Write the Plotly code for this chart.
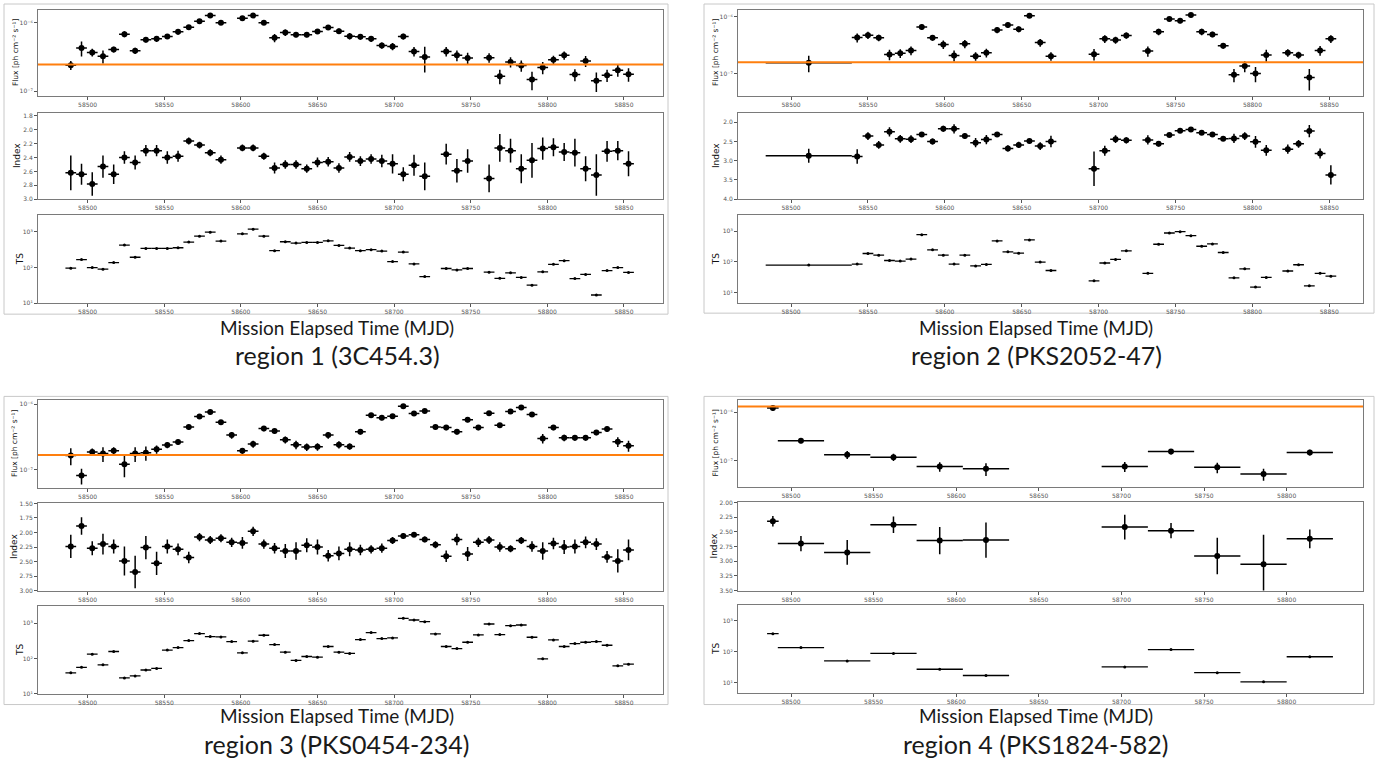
import plotly.graph_objects as go

W, H = 1377, 767

# ---------------- Region 1 (3C454.3) ----------------
r1_mjd = [58489, 58496, 58503, 58510, 58517, 58524, 58531, 58538, 58545, 58552, 58559, 58566, 58573, 58580, 58587,
          58601, 58608, 58615, 58622, 58629, 58636, 58643, 58650, 58657, 58664, 58671, 58678, 58685, 58692, 58699,
          58706, 58713, 58720, 58734, 58741, 58748, 58762, 58769, 58776, 58783, 58790, 58797, 58804, 58811, 58818,
          58825, 58832, 58839, 58846, 58853]
r1_halfwidth = [3.5] * len(r1_mjd)
r1_flux = [2.41, 4.3, 3.7, 3.25, 4.1, 6.86, 3.93, 5.67, 5.86, 6.34, 7.41, 8.65, 10.57, 12.9, 10.1,
           11.7, 12.8, 10.1, 6.07, 7.24, 6.7, 6.7, 7.48, 8.56, 7.57, 6.41, 6.27, 5.86, 4.69, 4.54,
           6.34, 3.84, 3.18, 3.84, 3.36, 3.08, 3.11, 1.67, 2.69, 2.38, 1.49, 2.23, 2.91, 3.36, 1.76,
           2.78, 1.43, 1.72, 2.04, 1.78]
r1_flux_err = [0.36, 1.07, 0.48, 0.7, 0.4, 0.7, 0.4, 0.5, 0.6, 0.5, 0.7, 0.7, 0.65, 0.8, 0.6,
               0.7, 0.8, 0.6, 0.85, 0.8, 0.5, 0.5, 0.55, 0.6, 0.7, 0.7, 0.6, 0.6, 0.5, 0.55,
               0.6, 0.6, 1.3, 0.6, 0.6, 0.6, 0.5, 0.4, 0.45, 0.45, 0.45, 0.45, 0.4, 0.45, 0.35,
               0.5, 0.45, 0.35, 0.4, 0.4]
r1_index = [2.62, 2.64, 2.78, 2.53, 2.64, 2.40, 2.47, 2.30, 2.30, 2.40, 2.38, 2.16, 2.22, 2.33, 2.43,
            2.26, 2.26, 2.38, 2.55, 2.50, 2.50, 2.56, 2.47, 2.46, 2.55, 2.39, 2.45, 2.42, 2.45, 2.49,
            2.64, 2.51, 2.67, 2.35, 2.59, 2.45, 2.70, 2.26, 2.30, 2.56, 2.44, 2.27, 2.25, 2.32, 2.33,
            2.56, 2.65, 2.31, 2.30, 2.49]
r1_index_err = [0.25, 0.15, 0.17, 0.16, 0.14, 0.09, 0.10, 0.08, 0.08, 0.09, 0.08, 0.05, 0.05, 0.05, 0.06,
                0.05, 0.05, 0.05, 0.08, 0.06, 0.06, 0.06, 0.07, 0.07, 0.07, 0.07, 0.07, 0.07, 0.09, 0.14,
                0.10, 0.15, 0.20, 0.15, 0.17, 0.17, 0.20, 0.20, 0.17, 0.21, 0.25, 0.16, 0.13, 0.13, 0.20,
                0.18, 0.30, 0.15, 0.14, 0.18]
r1_ts = [96, 167, 100, 90, 138, 426, 194, 344, 344, 344, 359, 516, 758, 980, 550,
         880, 1186, 758, 296, 527, 484, 505, 505, 562, 417, 352, 296, 316, 290, 147,
         272, 126, 56, 94, 86, 94, 74, 50, 71, 53, 32, 76, 123, 156, 49,
         64, 17, 82, 100, 73]
r1_ref_flux = 2.46

# ---------------- Region 2 (PKS2052-47) ----------------
r2_mjd = [58511.5, 58543, 58550, 58557, 58564, 58571, 58578, 58585, 58592, 58599, 58606, 58613, 58620, 58627,
          58634, 58641, 58648, 58655, 58662, 58669, 58697, 58704, 58711, 58718, 58732, 58739, 58746, 58753,
          58760, 58767, 58774, 58781, 58788, 58795, 58802, 58809, 58823, 58830, 58837, 58844, 58851]
r2_halfwidth = [28] + [3.5] * 40
r2_flux = [1.55, 4.31, 4.74, 4.26, 2.16, 2.28, 2.55, 6.57, 4.26, 3.25, 2.08, 3.34, 2.02, 2.32,
           5.82, 7.13, 6.05, 10.4, 3.52, 2.02, 2.19, 4.09, 3.88, 4.69, 2.48, 5.43, 9.1, 8.5,
           10.7, 5.43, 4.88, 3.08, 0.947, 1.35, 1.0, 2.11, 2.32, 2.11, 0.85, 2.55, 4.09]
r2_flux_err = [0.5, 0.78, 0.7, 0.55, 0.45, 0.4, 0.45, 0.7, 0.5, 0.55, 0.45, 0.55, 0.35, 0.4,
               0.7, 0.8, 0.7, 0.9, 0.55, 0.35, 0.5, 0.65, 0.55, 0.6, 0.5, 0.7, 0.8, 0.8,
               1.0, 0.7, 0.55, 0.35, 0.25, 0.3, 0.3, 0.5, 0.35, 0.3, 0.35, 0.5, 0.65]
r2_index = [2.87, 2.89, 2.36, 2.59, 2.25, 2.43, 2.44, 2.32, 2.50, 2.17, 2.17, 2.36, 2.53, 2.45,
            2.32, 2.68, 2.59, 2.49, 2.62, 2.50, 3.21, 2.74, 2.44, 2.47, 2.46, 2.56, 2.33, 2.22,
            2.19, 2.27, 2.32, 2.43, 2.42, 2.36, 2.51, 2.73, 2.70, 2.56, 2.23, 2.81, 3.37]
r2_index_err = [0.18, 0.19, 0.10, 0.10, 0.12, 0.10, 0.10, 0.05, 0.08, 0.08, 0.12, 0.07, 0.12, 0.12,
                0.05, 0.08, 0.08, 0.06, 0.10, 0.15, 0.45, 0.13, 0.10, 0.08, 0.12, 0.07, 0.05, 0.04,
                0.04, 0.06, 0.06, 0.06, 0.12, 0.10, 0.15, 0.14, 0.12, 0.10, 0.16, 0.13, 0.25]
r2_ts = [78, 84, 186, 164, 110, 105, 122, 762, 244, 164, 84, 164, 73, 82,
         476, 210, 190, 512, 98, 52, 24, 91, 119, 227, 42, 372, 862, 952,
         707, 320, 380, 200, 30, 59, 15, 31, 50, 80, 16.5, 42, 34]
r2_ref_flux = 1.58

# ---------------- Region 3 (PKS0454-234) ----------------
r3_mjd = [58489, 58496, 58503, 58510, 58517, 58524, 58531, 58538, 58545, 58552, 58559, 58566, 58573, 58580,
          58587, 58594, 58601, 58608, 58615, 58622, 58629, 58636, 58643, 58650, 58657, 58664, 58671, 58678,
          58685, 58692, 58699, 58706, 58713, 58720, 58727, 58734, 58741, 58748, 58755, 58762, 58769, 58776,
          58783, 58790, 58797, 58804, 58811, 58818, 58825, 58832, 58839, 58846, 58853]
r3_halfwidth = [3.5] * len(r3_mjd)
r3_flux = [1.65, 0.82, 1.87, 1.77, 1.96, 1.22, 1.77, 1.83, 2.06, 2.39, 2.66, 4.49, 6.5, 7.65,
           5.33, 3.39, 1.96, 2.48, 4.28, 3.9, 2.88, 2.42, 2.23, 2.25, 3.39, 2.42, 2.28, 3.81,
           6.81, 6.21, 6.58, 9.33, 7.22, 7.92, 4.49, 4.42, 3.81, 5.79, 4.42, 7.31, 4.8, 7.74,
           8.9, 6.97, 3.02, 4.42, 3.09, 3.09, 3.09, 3.72, 4.18, 2.69, 2.34]
r3_flux_err = [0.48, 0.22, 0.25, 0.45, 0.25, 0.45, 0.45, 0.45, 0.3, 0.25, 0.25, 0.4, 0.5, 0.6,
               0.4, 0.4, 0.2, 0.3, 0.4, 0.35, 0.35, 0.35, 0.3, 0.3, 0.4, 0.3, 0.25, 0.35,
               0.4, 0.5, 0.5, 0.6, 0.5, 0.5, 0.35, 0.4, 0.35, 0.45, 0.4, 0.45, 0.4, 0.5,
               0.55, 0.5, 0.5, 0.4, 0.35, 0.3, 0.3, 0.35, 0.4, 0.45, 0.45]
r3_index = [2.24, 1.89, 2.27, 2.20, 2.24, 2.49, 2.68, 2.26, 2.53, 2.24, 2.29, 2.43, 2.08, 2.13,
            2.10, 2.17, 2.18, 1.98, 2.20, 2.27, 2.32, 2.32, 2.22, 2.25, 2.40, 2.36, 2.29, 2.30,
            2.29, 2.27, 2.14, 2.06, 2.04, 2.12, 2.21, 2.41, 2.12, 2.37, 2.17, 2.13, 2.25, 2.28,
            2.14, 2.24, 2.32, 2.19, 2.25, 2.24, 2.17, 2.20, 2.42, 2.49, 2.30]
r3_index_err = [0.20, 0.15, 0.12, 0.18, 0.12, 0.25, 0.28, 0.20, 0.20, 0.12, 0.10, 0.10, 0.07, 0.07,
                0.07, 0.08, 0.10, 0.08, 0.08, 0.09, 0.12, 0.15, 0.12, 0.13, 0.10, 0.12, 0.12, 0.09,
                0.07, 0.08, 0.06, 0.05, 0.04, 0.05, 0.06, 0.10, 0.10, 0.12, 0.08, 0.07, 0.08, 0.06,
                0.06, 0.09, 0.15, 0.10, 0.12, 0.12, 0.10, 0.10, 0.10, 0.20, 0.18]
r3_ts = [39, 56, 133, 66, 158, 28, 32, 47, 52, 173, 205, 323, 510, 420,
         410, 303, 145, 310, 458, 249, 151, 88, 114, 109, 219, 151, 139, 345,
         545, 368, 384, 1385, 1242, 1115, 500, 219, 192, 290, 468, 957, 478, 859,
         897, 402, 98, 338, 219, 266, 290, 303, 238, 62, 69]
r3_ref_flux = 1.69

# ---------------- Region 4 (PKS1824-582) ----------------
r4_mjd = [58489, 58506, 58534, 58562, 58590, 58618, 58702, 58730, 58758, 58786, 58814]
r4_halfwidth = [3.5, 14, 14, 14, 14, 14, 14, 14, 14, 14, 14]
r4_flux = [12.2, 2.58, 1.34, 1.19, 0.767, 0.689, 0.767, 1.55, 0.733, 0.537, 1.48]
r4_flux_err = [1.4, 0.28, 0.25, 0.2, 0.17, 0.2, 0.18, 0.2, 0.18, 0.15, 0.2]
r4_index = [2.32, 2.70, 2.85, 2.38, 2.65, 2.64, 2.42, 2.48, 2.91, 3.05, 2.62]
r4_index_err = [0.09, 0.13, 0.21, 0.14, 0.23, 0.30, 0.21, 0.13, 0.31, 0.50, 0.16]
r4_ts = [375, 134, 50, 87, 27, 17, 32, 116, 21, 10.7, 68]
r4_ref_flux = 13.2

FLUX_UNIT = 1e-7
FLUX_TICKS = [1e-7, 1e-6]
FLUX_TICKTEXT = ["10⁻⁷", "10⁻⁶"]
TS_TICKS = [10, 100, 1000]
TS_TICKTEXT = ["10¹", "10²", "10³"]

panels = [
    dict(mjd=r1_mjd, hw=r1_halfwidth, flux=r1_flux, ferr=r1_flux_err, idx=r1_index, ierr=r1_index_err,
         ts=r1_ts, ref=r1_ref_flux, xdom=(38, 663), rows=[(6, 93), (110, 197), (213, 302)],
         xr=[58467.6, 58875.5], fr=[-7.07, -5.81], ir=[3.0, 1.757], tr=[1.0, 3.47],
         iticks=[1.8, 2.0, 2.2, 2.4, 2.6, 2.8, 3.0], ifmt=".1f", xticks=list(range(58500, 58851, 50)),
         frame=(4, 0, 668, 313), cap_x=337, cap_y=(326, 354), label="region 1 (3C454.3)", titlex=(15, 17, 20)),
    dict(mjd=r2_mjd, hw=r2_halfwidth, flux=r2_flux, ferr=r2_flux_err, idx=r2_index, ierr=r2_index_err,
         ts=r2_ts, ref=r2_ref_flux, xdom=(738, 1363), rows=[(6, 93), (110, 197), (213, 302)],
         xr=[58465.5, 58871.9], fr=[-7.40, -5.88], ir=[4.0, 1.76], tr=[0.65, 3.52],
         iticks=[2.0, 2.5, 3.0, 3.5, 4.0], ifmt=".1f", xticks=list(range(58500, 58851, 50)),
         frame=(704, 0, 1374, 312), cap_x=1036, cap_y=(326, 354), label="region 2 (PKS2052-47)", titlex=(715, 716, 716)),
    dict(mjd=r3_mjd, hw=r3_halfwidth, flux=r3_flux, ferr=r3_flux_err, idx=r3_index, ierr=r3_index_err,
         ts=r3_ts, ref=r3_ref_flux, xdom=(38, 663), rows=[(400, 488), (504, 592), (608, 696)],
         xr=[58467.6, 58875.5], fr=[-7.27, -5.94], ir=[3.0, 1.5], tr=[1.0, 3.48],
         iticks=[1.5, 1.75, 2.0, 2.25, 2.5, 2.75, 3.0], ifmt=".2f", xticks=list(range(58500, 58851, 50)),
         frame=(4, 396, 668, 707), cap_x=337, cap_y=(718, 747), label="region 3 (PKS0454-234)", titlex=(15, 14, 20)),
    dict(mjd=r4_mjd, hw=r4_halfwidth, flux=r4_flux, ferr=r4_flux_err, idx=r4_index, ierr=r4_index_err,
         ts=r4_ts, ref=r4_ref_flux, xdom=(738, 1363), rows=[(400, 487), (503, 592), (607, 695)],
         xr=[58467.9, 58846.2], fr=[-7.53, -5.755], ir=[3.5, 2.0], tr=[0.68, 3.48],
         iticks=[2.0, 2.25, 2.5, 2.75, 3.0, 3.25, 3.5], ifmt=".2f", xticks=list(range(58500, 58801, 50)),
         frame=(704, 396, 1374, 707), cap_x=1036, cap_y=(718, 747), label="region 4 (PKS1824-582)", titlex=(715, 714, 716)),
]


def fx(px):
    return px / W


def fy(py):
    return 1 - py / H


TICKFONT = dict(family="DejaVu Sans", size=6, color="#555555")
AXLINE = "#7a7a7a"

fig = go.Figure()
layout = dict(width=W, height=H, margin=dict(l=0, r=0, t=0, b=0), autosize=False,
              paper_bgcolor="white", plot_bgcolor="white", showlegend=False)
shapes = []
annotations = []

for p, P in enumerate(panels):
    x0, y0, x1, y1 = P["frame"]
    shapes.append(dict(type="rect", xref="paper", yref="paper", x0=fx(x0), x1=fx(x1), y0=fy(y1), y1=fy(y0),
                       line=dict(color="#c8c8c8", width=1), fillcolor="rgba(0,0,0,0)", layer="below"))
    for r in range(3):
        k = p * 3 + r + 1
        xs = "" if k == 1 else str(k)
        ytop, ybot = P["rows"][r]
        xa = dict(domain=[fx(P["xdom"][0]), fx(P["xdom"][1])], anchor="y" + xs, range=P["xr"],
                  tickvals=P["xticks"], ticktext=[str(v) for v in P["xticks"]], tickfont=TICKFONT,
                  ticks="outside", ticklen=3, tickcolor="#555555", showline=True, mirror=True,
                  linecolor=AXLINE, linewidth=1, showgrid=False, zeroline=False)
        ya = dict(domain=[fy(ybot), fy(ytop)], anchor="x" + xs, tickfont=TICKFONT,
                  ticks="outside", ticklen=3, tickcolor="#555555", showline=True, mirror=True,
                  linecolor=AXLINE, linewidth=1, showgrid=False, zeroline=False)
        err_x = dict(type="data", array=P["hw"], color="black", thickness=1.5, width=0)
        if r == 0:
            ya.update(type="log", range=P["fr"], tickvals=FLUX_TICKS, ticktext=FLUX_TICKTEXT)
            yv = [v * FLUX_UNIT for v in P["flux"]]
            ev = [v * FLUX_UNIT for v in P["ferr"]]
            fig.add_trace(go.Scatter(x=P["mjd"], y=yv, mode="markers",
                                     marker=dict(color="black", size=6),
                                     error_x=err_x,
                                     error_y=dict(type="data", array=ev, color="black", thickness=1.5, width=0),
                                     xaxis="x" + xs, yaxis="y" + xs, hoverinfo="skip"))
            ref = P["ref"] * FLUX_UNIT
            fig.add_trace(go.Scatter(x=P["xr"], y=[ref, ref], mode="lines",
                                     line=dict(color="#ff7f0e", width=2),
                                     xaxis="x" + xs, yaxis="y" + xs, hoverinfo="skip"))
            title, tsize = "Flux [ph cm⁻² s⁻¹]", 7.5
        elif r == 1:
            ya.update(range=P["ir"], tickvals=P["iticks"], tickformat=P["ifmt"])
            fig.add_trace(go.Scatter(x=P["mjd"], y=P["idx"], mode="markers",
                                     marker=dict(color="black", size=6),
                                     error_x=err_x,
                                     error_y=dict(type="data", array=P["ierr"], color="black", thickness=1.5, width=0),
                                     xaxis="x" + xs, yaxis="y" + xs, hoverinfo="skip"))
            title, tsize = "Index", 9
        else:
            ya.update(type="log", range=P["tr"], tickvals=TS_TICKS, ticktext=TS_TICKTEXT)
            fig.add_trace(go.Scatter(x=P["mjd"], y=P["ts"], mode="markers",
                                     marker=dict(color="black", size=3),
                                     error_x=dict(type="data", array=P["hw"], color="black", thickness=1.3, width=0),
                                     xaxis="x" + xs, yaxis="y" + xs, hoverinfo="skip"))
            title, tsize = "TS", 9
        layout["xaxis" + xs] = xa
        layout["yaxis" + xs] = ya
        annotations.append(dict(text=title, xref="paper", yref="paper", x=fx(P["titlex"][r]),
                                y=fy((ytop + ybot) / 2), textangle=-90, showarrow=False,
                                xanchor="center", yanchor="middle",
                                font=dict(family="DejaVu Sans", size=tsize, color="#111111")))
    annotations.append(dict(text="Mission Elapsed Time (MJD)", xref="paper", yref="paper",
                            x=fx(P["cap_x"]), y=fy(P["cap_y"][0]), showarrow=False,
                            xanchor="center", yanchor="middle",
                            font=dict(family="Lato", size=19, color="#1a1a1a")))
    annotations.append(dict(text=P["label"], xref="paper", yref="paper",
                            x=fx(P["cap_x"]), y=fy(P["cap_y"][1]), showarrow=False,
                            xanchor="center", yanchor="middle",
                            font=dict(family="Lato", size=25, color="#1a1a1a")))

layout["shapes"] = shapes
layout["annotations"] = annotations
fig.update_layout(**layout)
fig.write_html("out.html")
